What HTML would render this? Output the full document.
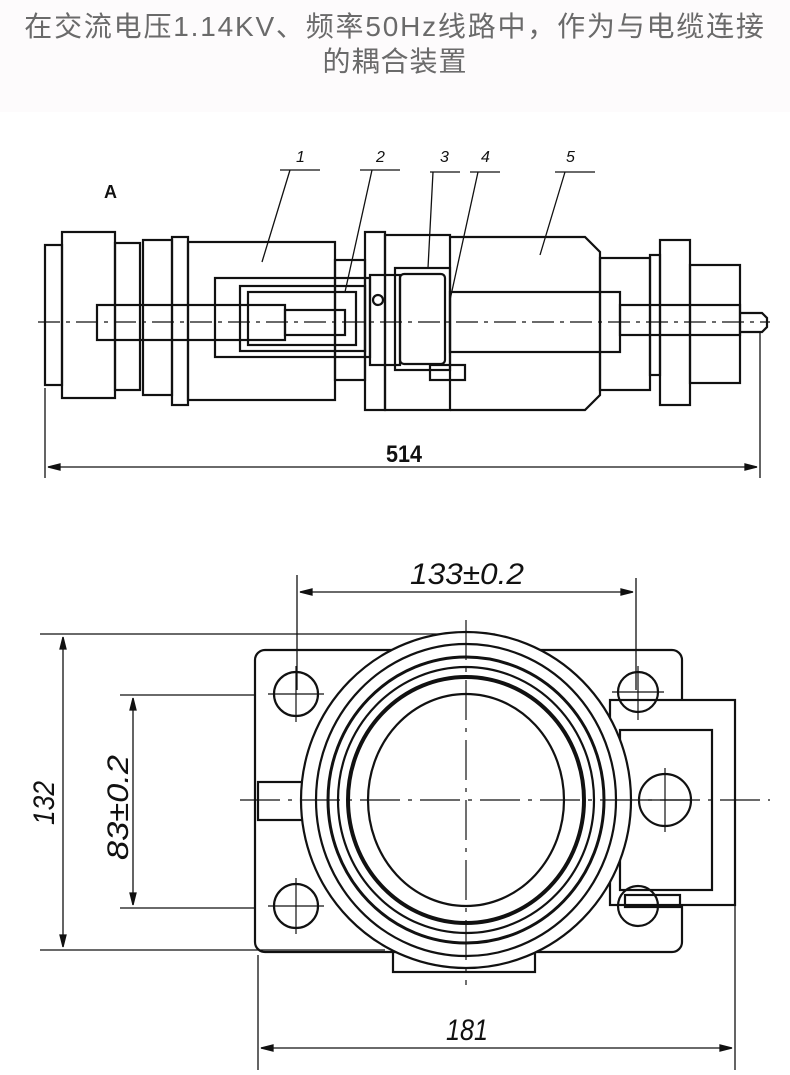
<!DOCTYPE html>
<html><head><meta charset="utf-8"><style>
html,body{margin:0;padding:0;background:#fff;}
body{width:790px;height:1075px;position:relative;overflow:hidden;}
.hdr{position:absolute;left:0;top:0;width:790px;height:112px;background:#fdfbfc;}
.t{position:absolute;left:0;width:790px;text-align:center;color:#6a6a6a;font-family:"Liberation Sans","Noto Sans CJK SC",sans-serif;font-size:28px;line-height:32px;white-space:nowrap;}
svg{position:absolute;left:0;top:0;}
</style></head><body>
<div class="hdr"></div>
<div class="t" style="top:11px;letter-spacing:1.8px">在交流电压1.14KV、频率50Hz线路中，作为与电缆连接</div>
<div class="t" style="top:46px;letter-spacing:1px">的耦合装置</div>
<svg width="790" height="1075" viewBox="0 0 790 1075" fill="none" stroke="#111" stroke-width="2.2" font-family="Liberation Sans, sans-serif">
<text x="104" y="198" font-size="18" font-weight="bold" fill="#111" stroke="none">A</text>
<g font-size="16" fill="#111" stroke="none" font-style="italic">
<text x="296" y="162">1</text><text x="376" y="162">2</text><text x="440" y="162">3</text><text x="481" y="162">4</text><text x="566" y="162">5</text></g>
<g stroke-width="1.3">
<path d="M280 170 H320 M290 170 L262 262"/><path d="M360 170 H400 M372 170 L345 292"/>
<path d="M430 172 H460 M433 172 L428 268"/><path d="M470 172 H500 M478 172 L450 300"/>
<path d="M555 172 H595 M565 172 L540 255"/></g>
<rect x="45" y="245" width="17" height="140"/>
<rect x="62" y="232" width="53" height="166"/>
<rect x="115" y="243" width="25" height="147"/>
<rect x="143" y="240" width="29" height="155"/>
<rect x="172" y="237" width="16" height="168"/>
<rect x="188" y="242" width="147" height="158"/>
<rect x="335" y="260" width="30" height="120"/>
<rect x="215" y="278" width="155" height="79"/>
<rect x="240" y="286" width="125" height="65"/>
<rect x="248" y="292" width="108" height="53"/>
<rect x="97" y="305" width="188" height="35"/>
<rect x="285" y="310" width="60" height="25"/>
<rect x="365" y="232" width="20" height="178"/>
<rect x="385" y="235" width="65" height="175"/>
<rect x="370" y="275" width="30" height="90"/>
<circle cx="378" cy="300" r="5"/>
<rect x="395" y="268" width="55" height="102"/>
<rect x="400" y="274" width="45" height="90" rx="4"/>
<rect x="430" y="365" width="35" height="15"/>
<path d="M450 237 H585 L600 252 V395 L585 410 H450"/>
<rect x="600" y="258" width="50" height="132"/>
<rect x="650" y="255" width="10" height="120"/>
<rect x="660" y="240" width="30" height="165"/>
<rect x="690" y="265" width="50" height="118"/>
<rect x="450" y="292" width="170" height="60"/>
<rect x="620" y="305" width="120" height="30"/>
<path d="M740 313 H762 L767 318 V327 L762 332 H740"/>
<path d="M38 322 H770" stroke-width="1.2" stroke-dasharray="22 6 4 6"/>
<g stroke-width="1.3"><path d="M45 388 V478 M760 332 V478 M48 467 H757"/>
<path d="M48 467 l12 -3 v6 z M757 467 l-12 -3 v6 z" fill="#111"/></g>
<text x="386" y="462" font-size="24" fill="#111" stroke="none" font-weight="bold" textLength="36" lengthAdjust="spacingAndGlyphs">514</text>
<g stroke-width="1.3">
<path d="M297 575 V690 M636 578 V690 M300 592 H633"/>
<path d="M300 592 l12 -3 v6 z M633 592 l-12 -3 v6 z" fill="#111"/>
<path d="M40 634 H495 M40 950 H385 M63 637 V947"/>
<path d="M63 637 l-3 12 h6 z M63 947 l-3 -12 h6 z" fill="#111"/>
<path d="M120 695 H255 M120 908 H255 M133 698 V905"/>
<path d="M133 698 l-3 12 h6 z M133 905 l-3 -12 h6 z" fill="#111"/>
<path d="M258 955 V1070 M735 905 V1070 M261 1048 H732"/>
<path d="M261 1048 l12 -3 v6 z M732 1048 l-12 -3 v6 z" fill="#111"/>
</g>
<text x="410" y="584" font-size="30" fill="#111" stroke="none" font-style="italic" textLength="114" lengthAdjust="spacingAndGlyphs">133±0.2</text>
<text transform="translate(54,825) rotate(-90)" font-size="30" fill="#111" stroke="none" font-style="italic" textLength="44" lengthAdjust="spacingAndGlyphs">132</text>
<text transform="translate(128,860) rotate(-90)" font-size="30" fill="#111" stroke="none" font-style="italic" textLength="105" lengthAdjust="spacingAndGlyphs">83±0.2</text>
<text x="446" y="1040" font-size="30" fill="#111" stroke="none" font-style="italic" textLength="42" lengthAdjust="spacingAndGlyphs">181</text>
<rect x="255" y="650" width="427" height="302" rx="10"/>
<rect x="258" y="782" width="45" height="38"/>
<rect x="393" y="940" width="142" height="32"/>
<rect x="610" y="700" width="125" height="205" fill="#fff"/>
<rect x="620" y="730" width="92" height="160"/>
<rect x="625" y="895" width="55" height="12"/>
<circle cx="296" cy="694" r="22"/><circle cx="296" cy="906" r="22"/>
<circle cx="638" cy="692" r="20"/><circle cx="638" cy="906" r="20"/>
<circle cx="665" cy="800" r="26"/>
<ellipse cx="466" cy="800" rx="165" ry="168" fill="#fff"/>
<ellipse cx="466" cy="800" rx="150" ry="156"/>
<ellipse cx="466" cy="800" rx="138" ry="143" stroke-width="3"/>
<ellipse cx="466" cy="800" rx="128" ry="133"/>
<ellipse cx="466" cy="800" rx="118" ry="123" stroke-width="4"/>
<ellipse cx="466" cy="800" rx="98" ry="106"/>
<g stroke-width="1.2"><path d="M466 620 V985" stroke-dasharray="40 8 4 8"/>
<path d="M240 800 H770" stroke-dasharray="40 8 4 8"/>
<path d="M296 666 V722 M268 694 H324 M296 878 V934 M268 906 H324 M638 666 V720 M612 692 H664 M665 768 V832 M638 800 H692"/></g>
</svg>
</body></html>
